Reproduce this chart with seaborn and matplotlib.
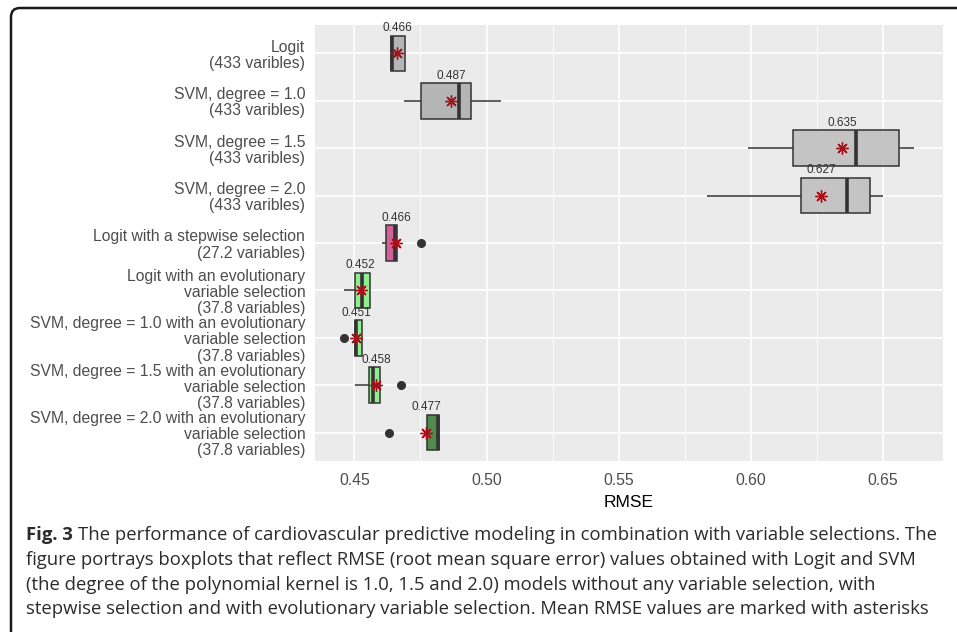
import numpy as np
import pandas as pd
import matplotlib
matplotlib.use("Agg")
import matplotlib.pyplot as plt
from matplotlib.patches import FancyBboxPatch
from matplotlib.ticker import MultipleLocator, FormatStrFormatter
import seaborn as sns

# model labels, as they appear on the y axis (top to bottom)
models = [
    "Logit\n(433 varibles)",
    "SVM, degree = 1.0\n(433 varibles)",
    "SVM, degree = 1.5\n(433 varibles)",
    "SVM, degree = 2.0\n(433 varibles)",
    "Logit with a stepwise selection\n(27.2 variables)",
    "Logit with an evolutionary\nvariable selection\n(37.8 variables)",
    "SVM, degree = 1.0 with an evolutionary\nvariable selection\n(37.8 variables)",
    "SVM, degree = 1.5 with an evolutionary\nvariable selection\n(37.8 variables)",
    "SVM, degree = 2.0 with an evolutionary\nvariable selection\n(37.8 variables)",
]

# RMSE of the five cross-validation folds
rmse_logit = [0.4640, 0.4640, 0.4642, 0.4690, 0.4692]
rmse_svm10 = [0.4688, 0.4752, 0.4895, 0.4940, 0.5053]
rmse_svm15 = [0.5990, 0.6160, 0.6400, 0.6560, 0.6620]
rmse_svm20 = [0.5835, 0.6190, 0.6365, 0.6450, 0.6500]
rmse_logit_step = [0.4605, 0.4620, 0.4654, 0.4662, 0.4752]
rmse_logit_evo = [0.4462, 0.4504, 0.4530, 0.4560, 0.4560]
rmse_svm10_evo = [0.4459, 0.4504, 0.4506, 0.4530, 0.4530]
rmse_svm15_evo = [0.4504, 0.4556, 0.4571, 0.4598, 0.4677]
rmse_svm20_evo = [0.4632, 0.4774, 0.4816, 0.4820, 0.4820]

fills = ["#B5B5B5", "#B5B5B5", "#C4C4C4", "#C4C4C4", "#D4609A",
         "#90EE90", "#90EE90", "#90EE90", "#4F8B4F"]

caption_lines = [
    "The performance of cardiovascular predictive modeling in combination with variable selections. The",
    "figure portrays boxplots that reflect RMSE (root mean square error) values obtained with Logit and SVM",
    "(the degree of the polynomial kernel is 1.0, 1.5 and 2.0) models without any variable selection, with",
    "stepwise selection and with evolutionary variable selection. Mean RMSE values are marked with asterisks",
]

folds = [rmse_logit, rmse_svm10, rmse_svm15, rmse_svm20, rmse_logit_step,
         rmse_logit_evo, rmse_svm10_evo, rmse_svm15_evo, rmse_svm20_evo]
df = pd.DataFrame({
    "model": np.repeat(models, [len(f) for f in folds]),
    "rmse": np.concatenate(folds),
})

sns.set_theme(style="darkgrid", rc={
    "axes.facecolor": "#EBEBEB",
    "grid.color": "white",
    "figure.facecolor": "white",
})
plt.rcParams["font.family"] = ["Liberation Sans", "DejaVu Sans"]

fig = plt.figure(figsize=(9.57, 6.32), dpi=100)
ax = fig.add_axes([0.3292, 0.2706, 0.6562, 0.6899])

sns.boxplot(
    data=df, x="rmse", y="model", hue="model", order=models, hue_order=models,
    palette=fills, saturation=1, width=0.75, linecolor="#333333", linewidth=1.1,
    fliersize=5.5, legend=False, ax=ax,
    medianprops=dict(linewidth=2.6),
    capprops=dict(linewidth=0),
    flierprops=dict(marker="o", markerfacecolor="#333333", markeredgecolor="#333333"),
)

# mean markers and labels
means = df.groupby("model", sort=False)["rmse"].mean().reindex(models)
pos = np.arange(len(models))
ax.scatter(means.values, pos, marker=(8, 2, 0), s=70, color="#A8101A",
           linewidths=1.0, zorder=5)
for p, m in zip(pos, means.values):
    ax.annotate(f"{m:.3f}", (m, p - 0.375), xytext=(0, 1), textcoords="offset points",
                ha="center", va="bottom", fontsize=8.5, color="#333333")

# ggplot-like expansion of the axes
lo, hi = df["rmse"].min(), df["rmse"].max()
pad = (hi - lo) * 0.05
ax.set_xlim(lo - pad, hi + pad)
ax.set_ylim(len(models) - 0.4, -0.6)

ax.xaxis.set_major_locator(MultipleLocator(0.05))
ax.xaxis.set_minor_locator(MultipleLocator(0.025))
ax.xaxis.set_major_formatter(FormatStrFormatter("%.2f"))
ax.grid(True, which="major", color="white", linewidth=1.2)
ax.grid(True, which="minor", axis="x", color="white", linewidth=0.6)
ax.yaxis.grid(True, which="major", color="white", linewidth=1.2)
ax.set_axisbelow(True)
for s in ax.spines.values():
    s.set_visible(False)

ax.tick_params(axis="both", which="major", length=3.5, width=0.9, color="#333333",
               labelcolor="#4D4D4D", labelsize=11.3, pad=3.5)
ax.tick_params(axis="x", which="major", pad=5.5)
ax.tick_params(axis="x", which="minor", length=0)
for t in ax.get_yticklabels():
    t.set_linespacing(1.1)
ax.set_ylabel("")
ax.set_xlabel("RMSE", fontsize=12.5, color="black", labelpad=5)

# rounded frame around the figure panel
frame = FancyBboxPatch((11, -30), 1000, 632 - 8 + 30,
                       boxstyle="round,pad=0,rounding_size=9",
                       transform=None, fill=False, edgecolor="#1a1a1a", linewidth=1.8)
fig.add_artist(frame)

# caption
cap_font = ["Open Sans", "DejaVu Sans"]
cap_size = 13.3
cap_color = "#2b2b2b"
x0 = 26 / 957
line_y = [535, 560, 585, 609]
fig.canvas.draw()
renderer = fig.canvas.get_renderer()
bold = fig.text(x0, 1 - line_y[0] / 632, "Fig. 3", family=cap_font, fontsize=cap_size,
                fontweight="bold", color=cap_color, va="center", ha="left")
bw = bold.get_window_extent(renderer).width
fig.text(x0 + (bw + 5) / 957, 1 - line_y[0] / 632, caption_lines[0], family=cap_font,
         fontsize=cap_size, color=cap_color, va="center", ha="left")
for yy, line in zip(line_y[1:], caption_lines[1:]):
    fig.text(x0, 1 - yy / 632, line, family=cap_font, fontsize=cap_size,
             color=cap_color, va="center", ha="left")

fig.savefig("out.png", dpi=100)
